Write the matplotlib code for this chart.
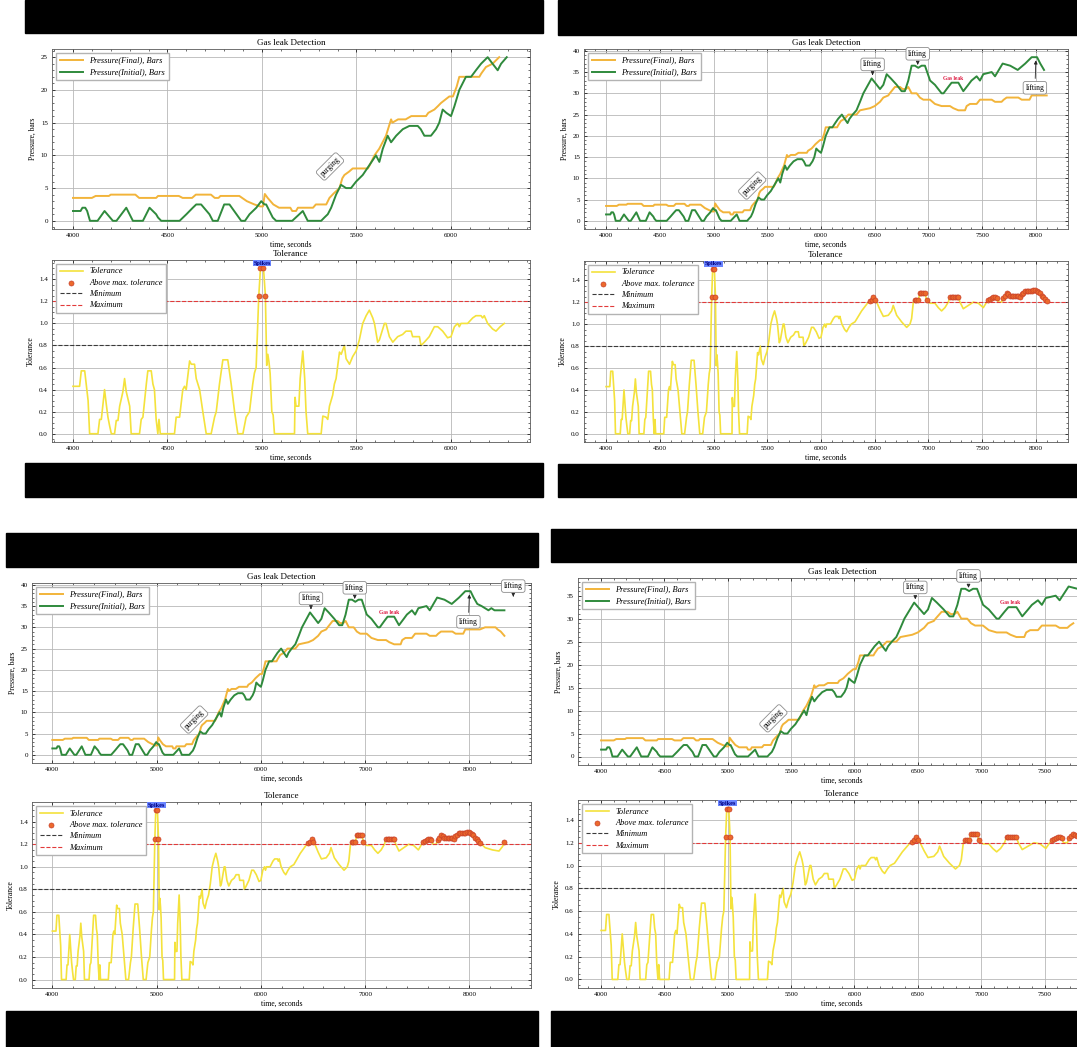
import matplotlib
matplotlib.use("Agg")
import matplotlib.pyplot as plt
import numpy as np
from matplotlib.patches import Rectangle
from matplotlib.ticker import MultipleLocator, AutoMinorLocator

plt.rcParams['font.family'] = ['Liberation Serif', 'DejaVu Serif']
plt.rcParams['font.size'] = 5
plt.rcParams['xtick.direction'] = 'in'
plt.rcParams['ytick.direction'] = 'in'
plt.rcParams['xtick.top'] = True
plt.rcParams['ytick.right'] = True
plt.rcParams['xtick.major.size'] = 2.5
plt.rcParams['ytick.major.size'] = 2.5
plt.rcParams['xtick.minor.size'] = 1.3
plt.rcParams['ytick.minor.size'] = 1.3
plt.rcParams['axes.linewidth'] = 0.6

# pressure, final (bars)
final_t = [4000, 4100, 4120, 4190, 4200, 4330, 4350, 4440, 4450, 4560, 4580, 4630, 4650, 4730,
           4750, 4770, 4780, 4880, 4920, 4960, 4990, 5005, 5015, 5030, 5060, 5090, 5150, 5160,
           5180, 5190, 5270, 5285, 5340, 5357, 5380, 5410, 5425, 5436, 5460, 5480, 5560, 5570,
           5595, 5620, 5656, 5683, 5690, 5720, 5760, 5790, 5868, 5880, 5912, 5930, 5947, 5991,
           6010, 6030, 6044, 6150, 6160, 6185, 6220, 6255, 6330, 6363, 6456, 6500, 6549, 6580,
           6626, 6640, 6688, 6735, 6760, 6790, 6812, 6843, 6890, 6920, 6952, 7014, 7060, 7122,
           7200, 7231, 7278, 7340, 7355, 7386, 7448, 7479, 7588, 7619, 7680, 7700, 7727, 7836,
           7867, 7940, 7960, 8100, 8150, 8250, 8270, 8300, 8335]
final_p = [3.5, 3.5, 3.8, 3.8, 4.0, 4.0, 3.5, 3.5, 3.8, 3.8, 3.5, 3.5, 4.0, 4.0,
           3.5, 3.5, 3.8, 3.8, 3.0, 2.5, 2.2, 2.2, 4.1, 3.5, 2.5, 2.0, 2.0, 1.5,
           1.5, 2.0, 2.0, 2.5, 2.5, 3.5, 4.2, 5.0, 6.5, 7.0, 7.5, 8.0, 8.0, 8.5,
           10.0, 11.0, 13.0, 15.5, 15.0, 15.5, 15.5, 16.0, 16.0, 16.5, 17.0, 17.5, 18.0, 19.0,
           19.0, 20.5, 22.0, 22.0, 22.5, 23.5, 24.0, 25.0, 25.0, 26.0, 26.5, 27.0, 28.0, 29.0,
           29.5, 30.0, 31.5, 31.5, 31.0, 31.0, 31.5, 30.0, 30.0, 29.0, 28.5, 28.5, 27.5, 27.0,
           27.0, 26.5, 26.0, 26.0, 27.0, 27.5, 27.5, 28.5, 28.5, 28.0, 28.0, 28.5, 29.0, 29.0,
           28.5, 28.5, 29.5, 29.5, 30.0, 30.0, 29.5, 29.0, 28.0]

# pressure, initial (bars)
initial_t = [4000, 4040, 4050, 4065, 4075, 4090, 4130, 4167, 4211, 4230, 4282, 4317, 4370, 4405,
             4440, 4450, 4467, 4564, 4600, 4634, 4652, 4678, 4722, 4740, 4766, 4800, 4828, 4890,
             4910, 4934, 4970, 4996, 5013, 5022, 5057, 5075, 5160, 5216, 5242, 5313, 5330, 5348,
             5366, 5392, 5418, 5445, 5471, 5498, 5533, 5568, 5603, 5621, 5639, 5665, 5683, 5710,
             5745, 5780, 5824, 5840, 5859, 5894, 5921, 5938, 5956, 5975, 6000, 6018, 6044, 6079,
             6106, 6132, 6159, 6194, 6220, 6247, 6265, 6295, 6330, 6363, 6394, 6471, 6518, 6549,
             6580, 6611, 6650, 6704, 6750, 6780, 6812, 6843, 6874, 6905, 6936, 6967, 7015, 7060,
             7122, 7140, 7184, 7215, 7278, 7324, 7370, 7400, 7448, 7479, 7510, 7588, 7619, 7690,
             7760, 7830, 7900, 7960, 8010, 8040, 8075, 8116, 8182, 8210, 8240, 8335]
initial_p = [1.5, 1.5, 2.0, 2.0, 1.5, 0.0, 0.0, 1.5, 0.0, 0.0, 2.0, 0.0, 0.0, 2.0,
             1.0, 0.5, 0.0, 0.0, 1.0, 2.0, 2.5, 2.5, 1.0, 0.0, 0.0, 2.5, 2.5, 0.0,
             0.0, 1.0, 2.0, 3.0, 2.5, 2.5, 0.5, 0.0, 0.0, 1.5, 0.0, 0.0, 0.5, 1.0,
             2.0, 4.0, 5.5, 5.0, 5.0, 6.0, 7.0, 8.5, 10.0, 9.0, 11.0, 13.0, 12.0, 13.0,
             14.0, 14.5, 14.5, 14.0, 13.0, 13.0, 14.0, 15.0, 17.0, 16.5, 16.0, 17.5, 20.0, 22.0,
             22.0, 23.0, 24.0, 25.0, 24.0, 23.0, 24.0, 25.0, 26.0, 28.0, 30.0, 33.5, 32.0, 31.0,
             32.0, 34.5, 33.5, 32.0, 30.5, 30.5, 33.0, 36.5, 36.5, 36.0, 36.5, 36.5, 33.0, 32.0,
             30.0, 30.0, 31.5, 32.5, 32.5, 30.5, 32.0, 33.0, 34.0, 33.0, 34.5, 35.0, 34.0, 37.0,
             36.5, 35.5, 37.0, 38.5, 38.5, 37.0, 35.5, 35.0, 34.0, 34.5, 34.0, 34.0]

# tolerance
tol_t = [4000, 4035, 4044, 4062, 4070, 4080, 4088, 4132, 4141, 4150, 4159, 4167, 4176, 4185,
         4194, 4203, 4220, 4229, 4238, 4247, 4264, 4273, 4282, 4300, 4308, 4352, 4361, 4370,
         4388, 4396, 4414, 4423, 4431, 4440, 4449, 4455, 4462, 4537, 4546, 4564, 4581, 4590,
         4599, 4617, 4626, 4643, 4652, 4670, 4687, 4705, 4731, 4749, 4758, 4775, 4793, 4819,
         4837, 4855, 4872, 4899, 4916, 4934, 4951, 4960, 4969, 4983, 4992, 5008, 5018, 5025,
         5031, 5037, 5043, 5052, 5059, 5066, 5172, 5175, 5180, 5195, 5202, 5216, 5226, 5233,
         5242, 5313, 5322, 5339, 5348, 5357, 5374, 5383, 5392, 5410, 5419, 5436, 5445, 5463,
         5480, 5498, 5515, 5533, 5551, 5568, 5586, 5595, 5612, 5621, 5648, 5656, 5674, 5692,
         5718, 5744, 5762, 5789, 5797, 5833, 5841, 5859, 5885, 5912, 5930, 5956, 5982, 6000,
         6018, 6035, 6044, 6053, 6088, 6115, 6132, 6159, 6167, 6176, 6194, 6220, 6238, 6260,
         6282, 6316, 6378, 6440, 6455, 6471, 6487, 6502, 6518, 6549, 6580, 6626, 6657, 6672,
         6704, 6750, 6797, 6828, 6843, 6859, 6870, 6885, 6905, 6921, 6935, 6950, 6967, 6983,
         6998, 7015, 7060, 7091, 7122, 7153, 7184, 7200, 7215, 7230, 7246, 7262, 7277, 7293,
         7324, 7370, 7417, 7464, 7510, 7541, 7557, 7572, 7588, 7603, 7619, 7634, 7650, 7680,
         7695, 7711, 7727, 7742, 7758, 7774, 7790, 7805, 7820, 7836, 7851, 7866, 7882, 7898,
         7913, 7928, 7944, 7960, 7975, 7991, 8006, 8022, 8037, 8053, 8068, 8084, 8100, 8117,
         8150, 8220, 8283, 8317, 8333]
tol_v = [0.43, 0.43, 0.57, 0.57, 0.45, 0.30, 0.00, 0.00, 0.13, 0.13, 0.27, 0.40, 0.27, 0.15,
         0.07, 0.00, 0.00, 0.12, 0.12, 0.25, 0.38, 0.50, 0.38, 0.25, 0.00, 0.00, 0.13, 0.15,
         0.45, 0.57, 0.57, 0.45, 0.40, 0.13, 0.00, 0.13, 0.00, 0.00, 0.15, 0.15, 0.40, 0.43,
         0.40, 0.66, 0.63, 0.63, 0.50, 0.40, 0.20, 0.00, 0.00, 0.15, 0.20, 0.45, 0.67, 0.67,
         0.45, 0.20, 0.00, 0.00, 0.15, 0.20, 0.45, 0.55, 0.60, 1.25, 1.50, 1.50, 1.25, 0.62,
         0.72, 0.65, 0.55, 0.20, 0.17, 0.00, 0.00, 0.33, 0.25, 0.25, 0.50, 0.75, 0.50, 0.20,
         0.00, 0.00, 0.16, 0.15, 0.13, 0.25, 0.35, 0.45, 0.50, 0.74, 0.72, 0.80, 0.68, 0.63,
         0.70, 0.75, 0.85, 1.00, 1.07, 1.12, 1.05, 1.00, 0.83, 0.85, 1.00, 1.00, 0.88, 0.83,
         0.88, 0.90, 0.93, 0.93, 0.88, 0.88, 0.80, 0.83, 0.88, 0.97, 0.97, 0.93, 0.87, 0.88,
         0.97, 1.00, 0.97, 1.00, 1.00, 1.05, 1.07, 1.07, 1.05, 1.07, 1.00, 0.95, 0.93, 0.97,
         1.00, 1.02, 1.12, 1.20, 1.21, 1.22, 1.25, 1.22, 1.20, 1.13, 1.07, 1.08, 1.12, 1.17,
         1.08, 1.02, 0.97, 1.00, 1.05, 1.20, 1.22, 1.22, 1.22, 1.28, 1.28, 1.28, 1.28, 1.22,
         1.20, 1.19, 1.19, 1.15, 1.12, 1.15, 1.20, 1.25, 1.25, 1.25, 1.25, 1.25, 1.25, 1.20,
         1.14, 1.17, 1.20, 1.19, 1.15, 1.20, 1.22, 1.23, 1.24, 1.25, 1.25, 1.24, 1.20, 1.20,
         1.24, 1.26, 1.28, 1.27, 1.26, 1.26, 1.26, 1.26, 1.26, 1.26, 1.25, 1.27, 1.28, 1.30,
         1.30, 1.30, 1.30, 1.30, 1.31, 1.31, 1.30, 1.29, 1.28, 1.26, 1.25, 1.23, 1.21, 1.20,
         1.17, 1.15, 1.14, 1.18, 1.22]

tol_min = 0.8
tol_max = 1.2

# four screenshots of the same run, taken at different moments
panel_end = [6300, 8100, 8340, 7800]
panel_xlim = [(3889, 6418), (3795, 8298), (3805, 8590), (3818, 7985)]
panel_xstep = [500, 500, 1000, 500]

C_FINAL = '#f2b43a'
C_INIT = '#2f8a3c'
C_TOL = '#f4e23c'

W, H = 1077, 1047
fig = plt.figure(figsize=(W / 100, H / 100), dpi=100)


def px_axes(x0, x1, y0, y1):
    return fig.add_axes([x0 / W, 1 - y1 / H, (x1 - x0) / W, (y1 - y0) / H])


def black_bar(x0, x1, y0, y1):
    fig.add_artist(Rectangle((x0 / W, 1 - y1 / H), (x1 - x0) / W, (y1 - y0) / H,
                             transform=fig.transFigure, color='black', zorder=10))


BOX = dict(boxstyle='round,pad=0.3', fc='white', ec='0.55', lw=0.6)


def style(ax, xstep, ystep, xlim):
    ax.set_xlim(xlim)
    ax.xaxis.set_major_locator(MultipleLocator(xstep))
    ax.yaxis.set_major_locator(MultipleLocator(ystep))
    ax.xaxis.set_minor_locator(AutoMinorLocator())
    ax.yaxis.set_minor_locator(AutoMinorLocator())
    ax.grid(True, color='0.72', lw=0.6)
    ax.set_axisbelow(True)
    ax.tick_params(labelsize=5, width=0.5, pad=3)
    ax.tick_params(which='minor', width=0.4)
    for s in ax.spines.values():
        s.set_color('0.35')


def draw_panel(ax_p, ax_t, t_end, xlim, xstep):
    ft, fp = np.array(final_t), np.array(final_p)
    it, ip = np.array(initial_t), np.array(initial_p)
    tt, tv = np.array(tol_t), np.array(tol_v)

    m = ft <= t_end
    ax_p.plot(ft[m], fp[m], color=C_FINAL, lw=1.4, label='Pressure(Final), Bars')
    m = it <= t_end
    ax_p.plot(it[m], ip[m], color=C_INIT, lw=1.4, label='Pressure(Initial), Bars')
    style(ax_p, xstep, 5, xlim)
    ax_p.set_title('Gas leak Detection', fontsize=6.5, pad=3)
    ax_p.set_xlabel('time, seconds', fontsize=5.5, labelpad=2)
    ax_p.set_ylabel('Pressure, bars', fontsize=5.5, labelpad=3)
    ax_p.legend(loc='upper left', prop={'style': 'italic', 'size': 6},
                fancybox=False, edgecolor='0.7', framealpha=1, handlelength=2.8)

    ax_p.annotate('purging', xy=(5360, 8.3), rotation=45, ha='center', va='center',
                  fontsize=5.5, bbox=BOX)
    arrow = dict(arrowstyle='-|>', color='0.15', lw=0.6, mutation_scale=5)
    ax_p.annotate('lifting', xy=(6480, 33.6), xytext=(6480, 36.8), ha='center', va='center',
                  fontsize=5.5, bbox=BOX, arrowprops=arrow)
    ax_p.annotate('lifting', xy=(6900, 36.7), xytext=(6900, 39.3), ha='center', va='center',
                  fontsize=5.5, bbox=BOX, arrowprops=arrow)
    ax_p.annotate('Gas leak', xy=(7230, 33.6), ha='center', va='center', fontsize=4,
                  color='crimson', fontweight='bold')
    ax_p.annotate('lifting', xy=(8000, 38.4), xytext=(7990, 31.3), ha='center', va='center',
                  fontsize=5.5, bbox=BOX, arrowprops=arrow)
    ax_p.annotate('lifting', xy=(8420, 37.2), xytext=(8420, 39.7), ha='center', va='center',
                  fontsize=5.5, bbox=BOX, arrowprops=arrow)

    m = tt <= t_end
    tt, tv = tt[m], tv[m]
    ax_t.plot(tt, tv, color=C_TOL, lw=1.2, label='Tolerance')
    above = tv > tol_max
    ax_t.scatter(tt[above], tv[above], s=13, c='#ec6a2c', edgecolors='#c8402a',
                 linewidths=0.5, zorder=3, label='Above max. tolerance')
    ax_t.axhline(tol_min, ls='--', color='#3a3a3a', lw=0.8, label='Minimum')
    ax_t.axhline(tol_max, ls='--', color='#e23a3a', lw=0.8, label='Maximum')
    style(ax_t, xstep, 0.2, xlim)
    ax_t.set_title('Tolerance', fontsize=6.5, pad=3)
    ax_t.set_xlabel('time, seconds', fontsize=5.5, labelpad=2)
    ax_t.set_ylabel('Tolerance', fontsize=5.5, labelpad=3)
    ax_t.text(5000, 1.525, 'Spikes', ha='center', va='bottom', fontsize=4.5, color='navy',
              fontweight='bold', bbox=dict(boxstyle='square,pad=0.12', fc='#6a85ff', ec='none'))
    ax_t.legend(loc='upper left', prop={'style': 'italic', 'size': 6}, fancybox=False,
                edgecolor='0.7', framealpha=1, handlelength=2.8, labelspacing=0.4)


# pixel layout of the four screenshots: pressure axes, tolerance axes, bars
layout = [
    dict(p=(52, 530, 49, 229), t=(52, 530, 260, 442), top=(25, 543, 0, 33), bot=(25, 543, 463, 497)),
    dict(p=(584, 1068, 49, 229), t=(584, 1068, 261, 442), top=(558, 1077, 0, 35), bot=(558, 1077, 464, 497)),
    dict(p=(32, 531, 583, 763), t=(32, 531, 802, 988), top=(6, 538, 533, 567), bot=(6, 538, 1011, 1047)),
    dict(p=(578, 1106, 578, 765), t=(578, 1106, 800, 988), top=(551, 1077, 529, 562), bot=(551, 1077, 1011, 1047)),
]

for i, lay in enumerate(layout):
    ax_p = px_axes(*lay['p'])
    ax_t = px_axes(*lay['t'])
    draw_panel(ax_p, ax_t, panel_end[i], panel_xlim[i], panel_xstep[i])
    black_bar(*lay['top'])
    black_bar(*lay['bot'])

fig.savefig('out.png', dpi=100)
